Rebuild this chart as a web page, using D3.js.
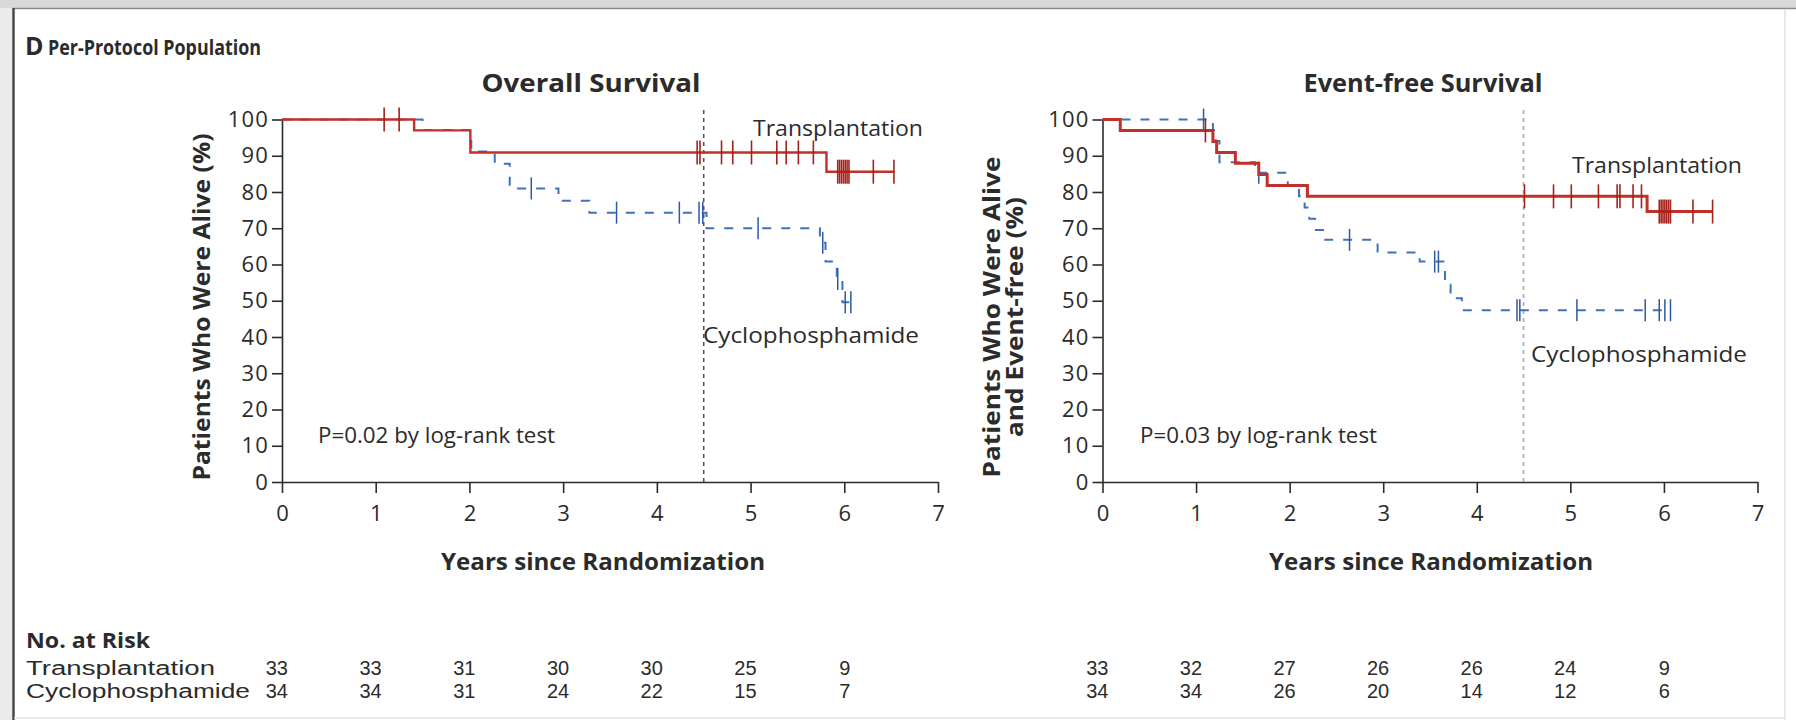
<!DOCTYPE html>
<html><head><meta charset="utf-8">
<script src="https://cdn.jsdelivr.net/npm/d3@7"></script>
<style>html,body{margin:0;padding:0;background:#fff;}svg{display:block;font-family:"Open Sans","Noto Sans",sans-serif;}</style>
</head><body>
<script>
// ---------- data ----------
const xTickValues = [0,1,2,3,4,5,6,7];
const yTickValues = [0,10,20,30,40,50,60,70,80,90,100];
const riskTimes = [0,1,2,3,4,5,6];

// Overall survival
const osTxTimes = [0, 1.41, 2.01, 5.81, 6.53];
const osTxSurv  = [100, 97.0, 90.9, 85.6, 85.6];
const osTxCensor = [1.09,1.25,4.43,4.46,4.69,4.81,5.01,5.28,5.38,5.51,5.67,5.93,5.95,5.97,5.99,6.01,6.03,6.05,6.31,6.53];
const osCyTimes = [0, 1.50, 2.00, 2.02, 2.27, 2.43, 2.95, 3.28, 4.53, 5.74, 5.80, 5.92, 5.98, 6.07];
const osCySurv  = [100, 97.1, 94.1, 91.2, 87.8, 81.0, 77.6, 74.3, 70.0, 66.0, 60.8, 56.0, 49.6, 49.6];
const osCyCensor = [2.66,3.57,4.24,4.45,4.49,5.08,5.77,5.93,6.01,6.07];
const osRiskTx = [33,33,31,30,30,25,9];
const osRiskCy = [34,34,31,24,22,15,7];

// Event-free survival
const efsTxTimes = [0, 0.19, 1.18, 1.22, 1.42, 1.67, 1.76, 2.19, 5.82, 6.52];
const efsTxSurv  = [100, 97.0, 93.9, 90.9, 87.9, 84.8, 81.8, 78.8, 74.6, 74.6];
const efsTxCensor = [1.10,4.51,4.82,5.01,5.30,5.50,5.53,5.67,5.76,5.95,5.97,5.99,6.01,6.03,6.05,6.07,6.31,6.52];
const efsCyTimes = [0, 1.18, 1.21, 1.25, 1.63, 1.98, 2.10, 2.16, 2.21, 2.27, 2.38, 2.94, 3.39, 3.66, 3.72, 3.84, 6.07];
const efsCySurv  = [100, 97.1, 94.1, 88.2, 85.3, 81.9, 78.8, 75.7, 72.6, 69.5, 66.8, 63.3, 60.8, 54.5, 50.7, 47.4, 47.4];
const efsCyCensor = [1.08,1.67,2.64,3.55,3.59,4.43,4.46,5.07,5.80,5.95,6.01,6.07];
const efsRiskTx = [33,32,27,26,26,24,9];
const efsRiskCy = [34,34,26,20,14,12,6];

const groupNames = ["Transplantation","Cyclophosphamide"];
const landmark = 4.5;

// ---------- drawing ----------
const W = 1796, H = 720;
const RED = "#c23128", RED_TICK = "#a5221c", BLUE = "#3f72b9", BLUE_TICK = "#2c5aa3", INK = "#2b2b2b";
const RISK_FONT = "'Liberation Sans', Arial, sans-serif";
const svg = d3.select("body").append("svg").attr("width", W).attr("height", H);

function txt(sel, x, yy, s, size, opts={}){
  const t = sel.append("text").attr("x",x).attr("y",yy).attr("font-size",size).attr("fill",INK).text(s);
  if(opts.bold) t.attr("font-weight",700);
  if(opts.anchor) t.attr("text-anchor",opts.anchor);
  if(opts.family) t.attr("font-family",opts.family);
  if(opts.len) t.attr("textLength",opts.len).attr("lengthAdjust","spacingAndGlyphs");
  return t;
}

// frame
svg.append("rect").attr("x",0).attr("y",0).attr("width",W).attr("height",H).attr("fill","#fff");
svg.append("rect").attr("x",0).attr("y",0).attr("width",W).attr("height",8).attr("fill","#d9d9d9");
svg.append("rect").attr("x",0).attr("y",8).attr("width",13).attr("height",H-8).attr("fill","#ececec");
svg.append("line").attr("x1",13).attr("x2",W).attr("y1",8.5).attr("y2",8.5).attr("stroke","#8a8a8a").attr("stroke-width",1.5);
svg.append("line").attr("x1",13.5).attr("x2",13.5).attr("y1",8).attr("y2",H).attr("stroke","#4a4a4a").attr("stroke-width",2.5);
svg.append("line").attr("x1",1785).attr("x2",1785).attr("y1",9).attr("y2",H).attr("stroke","#e2e2e2").attr("stroke-width",1.5);
svg.append("line").attr("x1",14).attr("x2",1785).attr("y1",718).attr("y2",718).attr("stroke","#e2e2e2").attr("stroke-width",1.5);

txt(svg, 25, 55, "D", 25, {bold:true});
txt(svg, 48, 55, "Per-Protocol Population", 22, {bold:true, len:213});

const y = d3.scaleLinear().domain([0,100]).range([482,119.5]);

function survAt(times, surv, t){
  let v = surv[0];
  for(let i=0;i<times.length;i++){ if(times[i] <= t + 1e-9) v = surv[i]; }
  return v;
}

function panel(cfg){
  const x = d3.scaleLinear().domain([0,7]).range(cfg.xr);
  const g = svg.append("g");

  // y axis
  const ya = g.append("g").attr("transform",`translate(${cfg.xr[0]},0)`)
    .call(d3.axisLeft(y).tickValues(yTickValues).tickSize(10).tickSizeOuter(0).tickPadding(3));
  // x axis
  const xa = g.append("g").attr("transform",`translate(0,482)`)
    .call(d3.axisBottom(x).tickValues(xTickValues).tickSize(11).tickSizeOuter(0).tickPadding(12).tickFormat(d3.format("d")));
  [ya,xa].forEach(a=>{
    a.selectAll("path,line").attr("stroke",INK).attr("stroke-width",1.6);
    a.selectAll("text").attr("font-size",22).attr("fill",INK).attr("font-family","'Open Sans',sans-serif");
  });
  ya.selectAll("text").attr("letter-spacing",1.2);

  // landmark dotted line
  g.append("line").attr("x1",x(landmark)).attr("x2",x(landmark)).attr("y1",110).attr("y2",482)
    .attr("stroke",cfg.dotColor).attr("stroke-width",1.6).attr("stroke-dasharray","4,4");

  const line = d3.line().x(d=>x(d[0])).y(d=>y(d[1])).curve(d3.curveStepAfter);

  // cyclophosphamide (blue dashed)
  const cy = cfg.cyT.map((t,i)=>[t,cfg.cyS[i]]);
  g.append("path").datum(cy).attr("d",line).attr("fill","none").attr("stroke",BLUE)
    .attr("stroke-width",2).attr("stroke-dasharray","9,10");
  g.selectAll(null).data(cfg.cyC).join("line")
    .attr("x1",d=>x(d)).attr("x2",d=>x(d))
    .attr("y1",d=>y(survAt(cfg.cyT,cfg.cyS,d))-11).attr("y2",d=>y(survAt(cfg.cyT,cfg.cyS,d))+11)
    .attr("stroke",BLUE_TICK).attr("stroke-width",1.5);

  // transplantation (red solid)
  const tx = cfg.txT.map((t,i)=>[t,cfg.txS[i]]);
  g.append("path").datum(tx).attr("d",line).attr("fill","none").attr("stroke",RED)
    .attr("stroke-width",cfg.redW);
  g.selectAll(null).data(cfg.txC).join("line")
    .attr("x1",d=>x(d)).attr("x2",d=>x(d))
    .attr("y1",d=>y(survAt(cfg.txT,cfg.txS,d))-12).attr("y2",d=>y(survAt(cfg.txT,cfg.txS,d))+12)
    .attr("stroke",RED_TICK).attr("stroke-width",1.6);

  // titles
  txt(g, cfg.titleX, 92, cfg.title, 25, {bold:true, anchor:"middle", len:cfg.titleLen});
  cfg.yTitle.forEach((t,i)=>{
    g.append("text").attr("transform",`translate(${cfg.yTitleX[i]},${cfg.yTitleY}) rotate(-90)`)
      .attr("text-anchor","middle").attr("dy","0.35em").attr("font-weight",700).attr("font-size",23)
      .attr("textLength",cfg.yTitleLen[i]).attr("lengthAdjust","spacingAndGlyphs")
      .attr("fill",INK).text(t);
  });
  txt(g, cfg.xTitleX, 570, "Years since Randomization", 23, {bold:true, anchor:"middle", len:324});

  txt(g, cfg.pX, 443, cfg.pText, 22, {len:237});
  txt(g, cfg.txLab[0], cfg.txLab[1], groupNames[0], 22, {len:170});
  txt(g, cfg.cyLab[0], cfg.cyLab[1], groupNames[1], 22, {len:216});

  // number at risk
  [[cfg.riskTx,675],[cfg.riskCy,698]].forEach(([arr,yy])=>{
    g.selectAll(null).data(riskTimes).join("text")
      .attr("x",d=>x(d)+6).attr("y",yy).attr("text-anchor","end").attr("font-size",20)
      .attr("font-family",RISK_FONT).attr("fill",INK)
      .text((d,i)=>arr[i]);
  });
}

panel({xr:[282,938], title:"Overall Survival", titleX:591, titleLen:219, yTitle:["Patients Who Were Alive (%)"], yTitleLen:[347], yTitleX:[202], yTitleY:307,
  xTitleX:603, pX:318, pText:"P=0.02 by log-rank test", txLab:[753,136], cyLab:[703,343], dotColor:"#555", redW:2.4,
  txT:osTxTimes, txS:osTxSurv, txC:osTxCensor, cyT:osCyTimes, cyS:osCySurv, cyC:osCyCensor, riskTx:osRiskTx, riskCy:osRiskCy});
panel({xr:[1102.5,1757.5], title:"Event-free Survival", titleX:1423, titleLen:239, yTitle:["Patients Who Were Alive","and Event-free (%)"], yTitleLen:[321,240], yTitleX:[992,1015], yTitleY:317,
  xTitleX:1431, pX:1140, pText:"P=0.03 by log-rank test", txLab:[1572,173], cyLab:[1531,362], dotColor:"#aaa", redW:3,
  txT:efsTxTimes, txS:efsTxSurv, txC:efsTxCensor, cyT:efsCyTimes, cyS:efsCySurv, cyC:efsCyCensor, riskTx:efsRiskTx, riskCy:efsRiskCy});

// risk table labels
txt(svg, 26, 648, "No. at Risk", 22, {bold:true, len:124});
txt(svg, 26, 675, groupNames[0], 20, {len:189, family:RISK_FONT});
txt(svg, 26, 698, groupNames[1], 20, {len:224, family:RISK_FONT});
</script>
</body></html>
